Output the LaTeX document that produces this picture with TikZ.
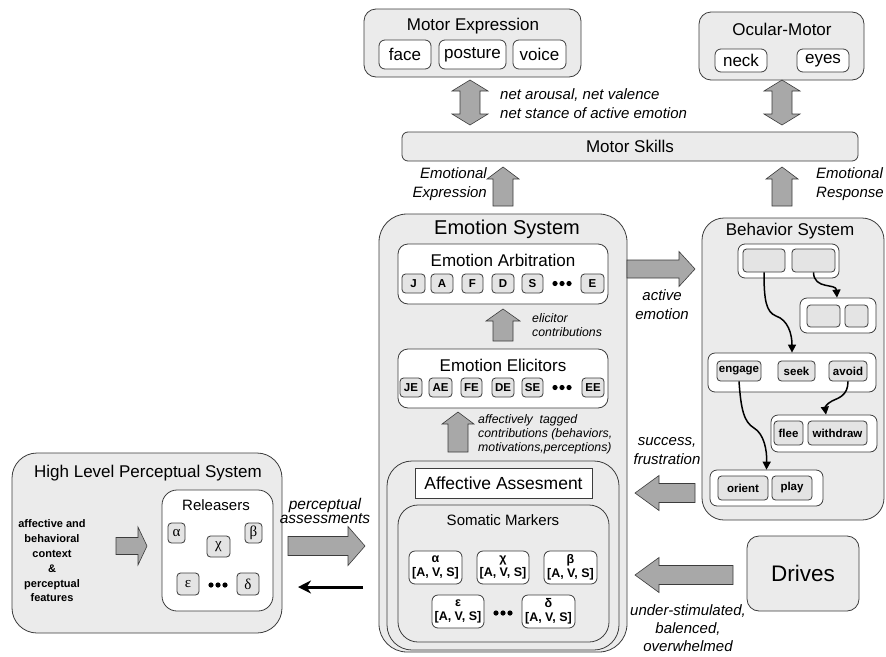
\documentclass[tikz,border=0pt]{standalone}
\usepackage{fontspec}
\setmainfont{Liberation Sans}
\newfontfamily\grk{Liberation Serif}
\usetikzlibrary{arrows.meta,calc}
\definecolor{boxgray}{RGB}{235,235,235}
\definecolor{smallgray}{RGB}{228,228,228}
\definecolor{arrgray}{RGB}{168,168,168}
\definecolor{edgegray}{RGB}{60,60,60}
\newcommand\bx[7]{\node[#1, minimum width={(#5-#3)*1pt}, minimum height={(#6-#4)*1pt}] (#2) at ({(#3+#5)/2},{(#4+#6)/2}) {#7};}
\newcommand\HArr[6]{\pgfmathsetmacro\fab{#2-#6*sign(#2-#1)}\filldraw[fat] (#1,{#3-#4}) -- (\fab,{#3-#4}) -- (\fab,{#3-#5}) -- (#2,#3) -- (\fab,{#3+#5}) -- (\fab,{#3+#4}) -- (#1,{#3+#4}) -- cycle;}
\newcommand\VArr[6]{\pgfmathsetmacro\fab{#3-#6*sign(#3-#2)}\filldraw[fat] ({#1-#4},#2) -- ({#1-#4},\fab) -- ({#1-#5},\fab) -- (#1,#3) -- ({#1+#5},\fab) -- ({#1+#4},\fab) -- ({#1+#4},#2) -- cycle;}
\newcommand\DArr[6]{\filldraw[fat] (#1,#2) -- ({#1+#5},{#2+#6}) -- ({#1+#4},{#2+#6}) -- ({#1+#4},{#3-#6}) -- ({#1+#5},{#3-#6}) -- (#1,#3) -- ({#1-#5},{#3-#6}) -- ({#1-#4},{#3-#6}) -- ({#1-#4},{#2+#6}) -- ({#1-#5},{#2+#6}) -- cycle;}
\newcommand\tdots[2]{\fill ({#1-7},#2) circle (2.6pt) (#1,#2) circle (2.6pt) ({#1+7},#2) circle (2.6pt);}
\begin{document}
\begin{tikzpicture}[x=1pt,y=-1pt,
  gbox/.style={draw=edgegray, fill=boxgray, line width=0.8pt, inner sep=0pt, rounded corners=#1},
  gbox/.default=10pt,
  wbox/.style={draw=edgegray, fill=white, line width=0.8pt, inner sep=0pt, rounded corners=#1},
  wbox/.default=6pt,
  sbox/.style={draw=edgegray, fill=smallgray, line width=0.8pt, inner sep=0pt, rounded corners=3.5pt, font=\fontsize{11.5}{13}\selectfont\bfseries},
  fat/.style={fill=arrgray, draw=edgegray, line width=0.6pt},
  big/.style={font=\fontsize{17}{20}\selectfont},
  mid/.style={font=\fontsize{15}{18}\selectfont},
  lab/.style={font=\fontsize{15}{19}\selectfont\itshape, inner sep=0pt},
  slab/.style={font=\fontsize{12.3}{14}\selectfont\itshape, inner sep=0pt},
  wavy/.style={line width=1.5pt, -{Triangle[length=8pt,width=8pt]}},
  mk/.style={wbox=6pt, align=center, font=\fontsize{12.5}{14}\selectfont\bfseries}
]
\useasboundingbox (0,0) rectangle (886,656);
\fill[white] (0,0) rectangle (886,656);

% ---------- Motor Expression ----------
\bx{gbox=12pt}{motexp}{364}{9}{581}{77}{}
\node[big] (motexpT) at (473,26) {Motor Expression};
\bx{wbox}{face}{379}{40}{431}{69}{\fontsize{17}{20}\selectfont face}
\bx{wbox}{posture}{439}{40}{506}{69}{\fontsize{17}{20}\selectfont posture}
\bx{wbox}{voice}{513}{40}{566}{69}{\fontsize{17}{20}\selectfont voice}

% ---------- Ocular-Motor ----------
\bx{gbox=12pt}{ocular}{699}{12}{864}{80}{}
\node[big] (ocularT) at (782,29) {Ocular-Motor};
\bx{wbox}{neck}{715}{49}{767}{72}{\fontsize{17}{20}\selectfont neck}
\bx{wbox}{eyes}{797}{49}{849}{72}{\fontsize{17}{20}\selectfont eyes}

% ---------- Motor Skills ----------
\bx{gbox=6pt}{skills}{402}{132}{858}{161}{\fontsize{17}{20}\selectfont Motor Skills}

\DArr{470}{80}{125}{10}{18}{11}
\DArr{782}{80}{125}{10}{18}{11}
\node[lab, align=left, anchor=west] (netlab) at (500,103.5) {net arousal, net valence\\net stance of active emotion};

\VArr{503}{206}{167}{10}{16}{12}
\VArr{782}{206}{167}{10}{16}{12}
\node[lab, align=right, anchor=east] (exlab) at (487,184) {Emotional\\Expression};
\node[lab, align=left, anchor=west] (reslab) at (816,184) {Emotional\\Response};

% ---------- Emotion System ----------
\bx{gbox=28pt}{emosys}{379}{214}{627}{652}{}
\node[font=\fontsize{20}{24}\selectfont] (emosysT) at (507,229) {Emotion System};

\bx{wbox=10pt}{arb}{398}{244}{608}{304}{}
\node[big] (arbT) at (503,260) {Emotion Arbitration};
\bx{sbox}{J}{402}{274}{425}{293}{J}
\bx{sbox}{A}{431}{274}{453}{293}{A}
\bx{sbox}{F}{462}{274}{483}{293}{F}
\bx{sbox}{D}{492}{274}{514}{293}{D}
\bx{sbox}{S}{522}{274}{543}{293}{S}
\bx{sbox}{E}{581}{274}{604}{293}{E}
\tdots{562}{283.5}

\VArr{503}{341}{309}{10}{17}{12}
\node[slab, align=left, anchor=west] (elab) at (532,325) {elicitor\\contributions};

\bx{wbox=10pt}{elic}{398}{349}{608}{408}{}
\node[big] (elicT) at (503,365) {Emotion Elicitors};
\bx{sbox}{JE}{400}{378}{422}{397}{JE}
\bx{sbox}{AE}{429}{378}{452}{397}{AE}
\bx{sbox}{FE}{461}{378}{482}{397}{FE}
\bx{sbox}{DE}{492}{378}{514}{397}{DE}
\bx{sbox}{SE}{522}{378}{543}{397}{SE}
\bx{sbox}{EE}{582}{378}{604}{397}{EE}
\tdots{562}{387.5}

\VArr{458}{452}{412}{10}{16}{12}
\node[slab, align=left, anchor=west] (alab) at (478,434) {affectively\ \ tagged\\contributions (behaviors,\\motivations,perceptions)};

\bx{gbox=25pt}{affout}{387}{461}{619}{650}{}
\node[draw=edgegray, fill=white, line width=0.8pt, minimum width=177pt, minimum height=30pt, inner sep=0pt, font=\fontsize{17.5}{20}\selectfont] (affass) at (503.5,483) {Affective Assesment};
\bx{gbox=20pt}{soma}{398}{505}{609}{642}{}
\node[mid] (somaT) at (503,520) {Somatic Markers};
\bx{mk}{ma}{409}{551}{462}{584}{α\\{}[A, V, S]}
\bx{mk}{mc}{477}{551}{529}{584}{χ\\{}[A, V, S]}
\bx{mk}{mb}{544}{551}{597}{584}{β\\{}[A, V, S]}
\bx{mk}{me}{432}{595}{484}{628}{ε\\{}[A, V, S]}
\bx{mk}{md}{522}{595}{575}{628}{δ\\{}[A, V, S]}
\tdots{503}{613}

% ---------- Behavior System ----------
\bx{gbox=22pt}{behsys}{702}{218}{884}{520}{}
\node[big] (behT) at (790,231) {Behavior System};
\bx{wbox=7pt}{toprow}{738}{244}{839}{278}{}
\bx{sbox}{bA}{743}{249}{785}{272}{}
\bx{sbox}{bB}{792}{249}{835}{272}{}
\bx{wbox=7pt}{rrow}{800}{298}{876}{333}{}
\bx{sbox}{bC}{807}{305}{840}{327}{}
\bx{sbox}{bD}{845}{305}{868}{327}{}
\bx{wbox=7pt}{engrow}{708}{353}{876}{392}{}
\bx{sbox}{engage}{717}{361}{761}{381}{engage}
\bx{sbox}{seek}{778}{361}{815}{381}{seek}
\bx{sbox}{avoid}{829}{361}{867}{381}{avoid}
\bx{wbox=7pt}{frow}{771}{415}{877}{452}{}
\bx{sbox}{flee}{774}{421}{803}{445}{flee}
\bx{sbox}{withdraw}{808}{421}{867}{445}{withdraw}
\bx{wbox=7pt}{orow}{710}{470}{823}{506}{}
\bx{sbox}{orient}{718}{476}{768}{500}{orient}
\bx{sbox}{play}{772}{476}{812}{500}{play}

\draw[wavy] (bA.south) .. controls (764,300) and (766,312) .. (776,316) .. controls (788,320) and (792,334) .. (engrow.north);
\draw[wavy] (bB.south) .. controls (814,290) and (836,283) .. ([xshift=-1pt]rrow.north);
\draw[wavy] (avoid.south) .. controls (848,396) and (838,398) .. (832,401) .. controls (826,404) and (825,408) .. ([xshift=2pt]frow.north);
\draw[wavy] (engage.south) .. controls (741,410) and (744,422) .. (754,428) .. controls (764,434) and (767,450) .. (orow.north);

\HArr{627}{695}{269}{9}{17.5}{16}
\node[lab, align=center] (actlab) at (662,305) {active\\emotion};
\HArr{695}{635}{493}{9.5}{17.5}{24}
\node[lab, align=center] (suclab) at (667,451) {success,\\frustration};

% ---------- Drives ----------
\bx{gbox=12pt}{drives}{747}{536}{859}{611}{\fontsize{22.5}{26}\selectfont Drives}
\HArr{733}{635}{575}{9.5}{17.5}{24}
\node[lab, align=center, font=\fontsize{15}{18}\selectfont\itshape] (drlab) at (688,628) {under-stimulated,\\balenced,\\overwhelmed};

% ---------- High Level Perceptual System ----------
\bx{gbox=25pt}{hlps}{12}{453}{282}{633}{}
\node[big] (hlpsT) at (148,473) {High Level Perceptual System};
\node[align=center, inner sep=0pt, font=\fontsize{11}{14.8}\selectfont\bfseries] (ctx) at (52,561) {affective and\\behavioral\\context\\\&\\perceptual\\features};
\HArr{116}{147}{546}{8.5}{19}{9}
\bx{wbox=15pt}{rel}{162}{490}{273}{611}{}
\node[mid] (relT) at (216,505) {Releasers};
\bx{sbox}{ra}{168}{523}{185}{543}{\grk\mdseries\fontsize{15}{16}\selectfont α}
\bx{sbox}{rb}{245}{523}{262}{543}{\grk\mdseries\fontsize{15}{16}\selectfont β}
\bx{sbox}{rc}{207}{536}{230}{557}{\grk\mdseries\fontsize{15}{16}\selectfont χ}
\bx{sbox}{re}{177}{573}{199}{595}{\grk\mdseries\fontsize{15}{16}\selectfont ε}
\bx{sbox}{rd}{237}{573}{259}{595}{\grk\mdseries\fontsize{15}{16}\selectfont δ}
\tdots{218}{585}

\HArr{288}{365}{546}{9.5}{19.5}{17}
\node[lab, align=center, font=\fontsize{15.5}{14}\selectfont\itshape] (perclab) at (325,511) {perceptual\\assessments};
\coordinate (fbTail) at (363,587);
\coordinate (fbTip) at (298,587);
\draw[line width=3pt, -{Stealth[length=13pt,width=13pt]}] (fbTail) -- (fbTip);
\end{tikzpicture}
\end{document}
